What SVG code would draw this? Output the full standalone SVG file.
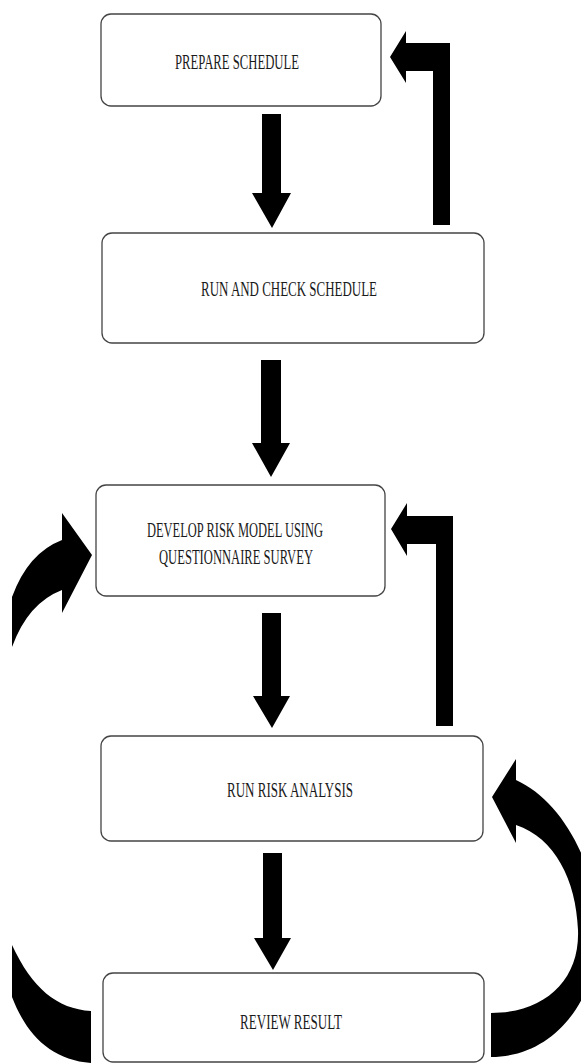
<svg xmlns="http://www.w3.org/2000/svg" width="581" height="1063" viewBox="0 0 581 1063">
<style>
.box{fill:#fff;stroke:#444;stroke-width:1.3}
.lbl{font-family:"Liberation Serif","Times New Roman",serif;font-size:21px;fill:#1a1a1a;text-anchor:middle}
.arr{fill:#000;stroke:none}
</style>
<rect width="581" height="1063" fill="#fff"/>
<g id="connectors">
<polygon class="arr" points="262,114 281,114 281,193 291,193 272,228 252,193 262,193"/>
<polygon class="arr" points="261,360 281,360 281,443 290,443 271,477 252,443 261,443"/>
<polygon class="arr" points="262,613 281,613 281,696 290,696 272,728 253,696 262,696"/>
<polygon class="arr" points="263,853 282,853 282,938 291,938 273,970 254,938 263,938"/>
<polygon class="arr" points="450,225 450,43 406,43 406,31 390,57 406,83 406,71 433,71 433,225"/>
<polygon class="arr" points="453,726 453,516 407,516 407,503 391,529 407,556 407,544 436,544 436,726"/>
<path class="arr" d="M12 647 Q28 603 62 590 L62 613 L92 555 L62 513 L62 540 Q28 553 12 597 Z"/>
<path class="arr" d="M12 945 C32 988 57 1009 91 1011 L91 1063 C52 1060 27 1036 12 997 Z"/>
<path class="arr" d="M491 1057 C560 1057 600 990 598 930 C596 860 560 800 516 780 L516 759 L492 797 L516 843 L516 825 C555 838 576 880 578 930 C580 980 545 1013 491 1013 Z"/>
</g>
<g id="n1">
<rect class="box" x="101" y="14" width="280" height="92" rx="10"/>
<text class="lbl" x="237" y="69" textLength="124" lengthAdjust="spacingAndGlyphs">PREPARE SCHEDULE</text>
</g>
<g id="n2">
<rect class="box" x="102" y="233" width="382" height="110" rx="10"/>
<text class="lbl" x="289" y="296" textLength="176" lengthAdjust="spacingAndGlyphs">RUN AND CHECK SCHEDULE</text>
</g>
<g id="n3">
<rect class="box" x="96" y="485" width="289" height="111" rx="10"/>
<text class="lbl" x="235" y="537" textLength="176" lengthAdjust="spacingAndGlyphs">DEVELOP RISK MODEL USING</text>
<text class="lbl" x="236" y="564" textLength="154" lengthAdjust="spacingAndGlyphs">QUESTIONNAIRE SURVEY</text>
</g>
<g id="n4">
<rect class="box" x="101" y="736" width="382" height="105" rx="10"/>
<text class="lbl" x="290" y="797" textLength="126" lengthAdjust="spacingAndGlyphs">RUN RISK ANALYSIS</text>
</g>
<g id="n5">
<rect class="box" x="103" y="973" width="381" height="89" rx="10"/>
<text class="lbl" x="291" y="1029" textLength="102" lengthAdjust="spacingAndGlyphs">REVIEW RESULT</text>
</g>
</svg>
